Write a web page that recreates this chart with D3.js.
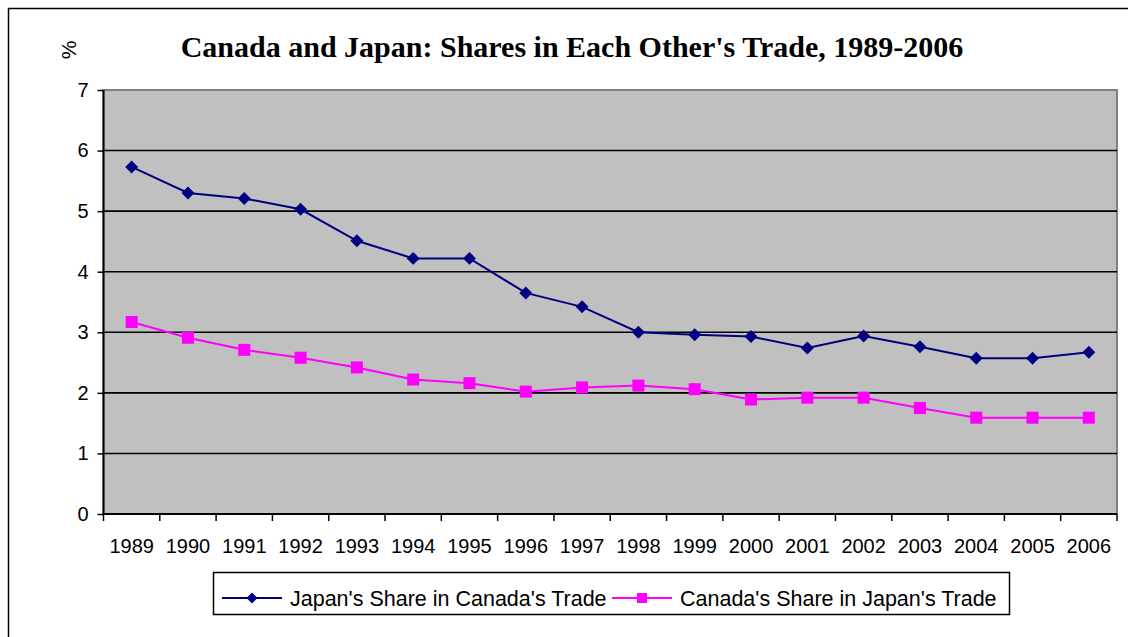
<!DOCTYPE html>
<html><head><meta charset="utf-8">
<script src="https://cdn.jsdelivr.net/npm/d3@7"></script>
<style>body{margin:0;background:#fff}svg{display:block}</style>
</head><body>
<svg id="c" width="1128" height="637"></svg>
<script>
const years = ["1989","1990","1991","1992","1993","1994","1995","1996","1997","1998","1999","2000","2001","2002","2003","2004","2005","2006"];
const japanShare = [5.73,5.30,5.21,5.03,4.51,4.22,4.22,3.65,3.42,3.00,2.96,2.93,2.74,2.94,2.76,2.57,2.57,2.67];
const canadaShare = [3.17,2.91,2.71,2.58,2.42,2.22,2.16,2.02,2.09,2.12,2.06,1.89,1.92,1.92,1.75,1.59,1.59,1.59];
const yTicks = [0,1,2,3,4,5,6,7];
const seriesNames = ["Japan's Share in Canada's Trade","Canada's Share in Japan's Trade"];
const titleText = "Canada and Japan: Shares in Each Other's Trade, 1989-2006";

const svg = d3.select("#c");
const L=103.5, R=1117, T=90, B=514;
const x = d3.scaleBand().domain(years).range([L,R]).padding(0);
const y = d3.scaleLinear().domain([0,7]).range([B,T]);
const sans = "Liberation Sans, Arial, sans-serif";

// outer border
svg.append("rect").attr("x",8.5).attr("y",8.5).attr("width",1140).attr("height",660)
  .attr("fill","none").attr("stroke","#000").attr("stroke-width",1.5);

// plot area
svg.append("rect").attr("x",L).attr("y",T).attr("width",R-L).attr("height",B-T)
  .attr("fill","#c0c0c0").attr("stroke","#808080").attr("stroke-width",2);

// gridlines
svg.append("g").selectAll("line").data(yTicks.filter(d=>d>0&&d<7)).join("line")
  .attr("x1",L).attr("x2",R).attr("y1",d=>y(d)).attr("y2",d=>y(d))
  .attr("stroke","#000").attr("stroke-width",1.6);

// y axis
const ya = svg.append("g").attr("transform",`translate(${L},0)`)
  .call(d3.axisLeft(y).tickValues(yTicks).tickSize(6).tickPadding(9).tickFormat(d3.format("d")));
ya.select(".domain").attr("stroke","#000").attr("stroke-width",2).attr("d",`M0,${T}V${B}`);
ya.selectAll(".tick line").attr("stroke","#000").attr("stroke-width",1.5);
ya.selectAll("text").attr("font-family",sans).attr("font-size",20).attr("fill","#000");

// x axis
const xa = svg.append("g").attr("transform",`translate(0,${B})`)
  .call(d3.axisBottom(x).tickSize(0).tickPadding(25));
xa.select(".domain").attr("stroke","#000").attr("stroke-width",2).attr("d",`M${L},0H${R}`);
xa.selectAll("text").attr("font-family",sans).attr("font-size",20).attr("fill","#000");
// tick marks at category boundaries
svg.append("g").selectAll("line").data(years.concat(["end"])).join("line")
  .attr("x1",(d,i)=>i<years.length?x(d):R).attr("x2",(d,i)=>i<years.length?x(d):R)
  .attr("y1",B).attr("y2",B+7).attr("stroke","#000").attr("stroke-width",1.5);

const cx = d => x(d)+x.bandwidth()/2;
const line = d3.line().x((d,i)=>cx(years[i])).y(d=>y(d));

svg.append("path").datum(japanShare).attr("d",line).attr("fill","none").attr("stroke","#000080").attr("stroke-width",2);
svg.append("path").datum(canadaShare).attr("d",line).attr("fill","none").attr("stroke","#ff00ff").attr("stroke-width",2);

svg.append("g").selectAll("path").data(japanShare).join("path")
  .attr("transform",(d,i)=>`translate(${cx(years[i])},${y(d)}) rotate(45)`)
  .attr("d",d3.symbol().type(d3.symbolSquare).size(84)())
  .attr("fill","#000080");
svg.append("g").selectAll("rect").data(canadaShare).join("rect")
  .attr("x",(d,i)=>cx(years[i])-6).attr("y",d=>y(d)-6)
  .attr("width",12).attr("height",12).attr("fill","#ff00ff");

// title
svg.append("text").attr("x",572).attr("y",57).attr("text-anchor","middle")
  .attr("font-family","Liberation Serif, Times New Roman, serif").attr("font-weight","bold")
  .attr("font-size",30).attr("fill","#000").text(titleText);
svg.append("text").attr("transform","translate(76,50) rotate(-90)").attr("text-anchor","middle")
  .attr("font-family",sans).attr("font-size",21).attr("fill","#000").text("%");

// legend
const lg = svg.append("g");
lg.append("rect").attr("x",213.5).attr("y",572.5).attr("width",796).attr("height",42)
  .attr("fill","#fff").attr("stroke","#000").attr("stroke-width",1.5);
const items = [{n:seriesNames[0],c:"#000080",t:"d",x0:222,tx:290},{n:seriesNames[1],c:"#ff00ff",t:"s",x0:612,tx:680}];
items.forEach(it=>{
  lg.append("line").attr("x1",it.x0).attr("x2",it.x0+60).attr("y1",598).attr("y2",598).attr("stroke",it.c).attr("stroke-width",2);
  if(it.t==="d") lg.append("path").attr("transform",`translate(${it.x0+30},598) rotate(45)`).attr("d",d3.symbol().type(d3.symbolSquare).size(60)()).attr("fill",it.c);
  else lg.append("rect").attr("x",it.x0+25).attr("y",593).attr("width",10).attr("height",10).attr("fill",it.c);
  lg.append("text").attr("x",it.tx).attr("y",606).attr("font-family",sans).attr("font-size",21.5).attr("fill","#000").text(it.n);
});
</script>
</body></html>
